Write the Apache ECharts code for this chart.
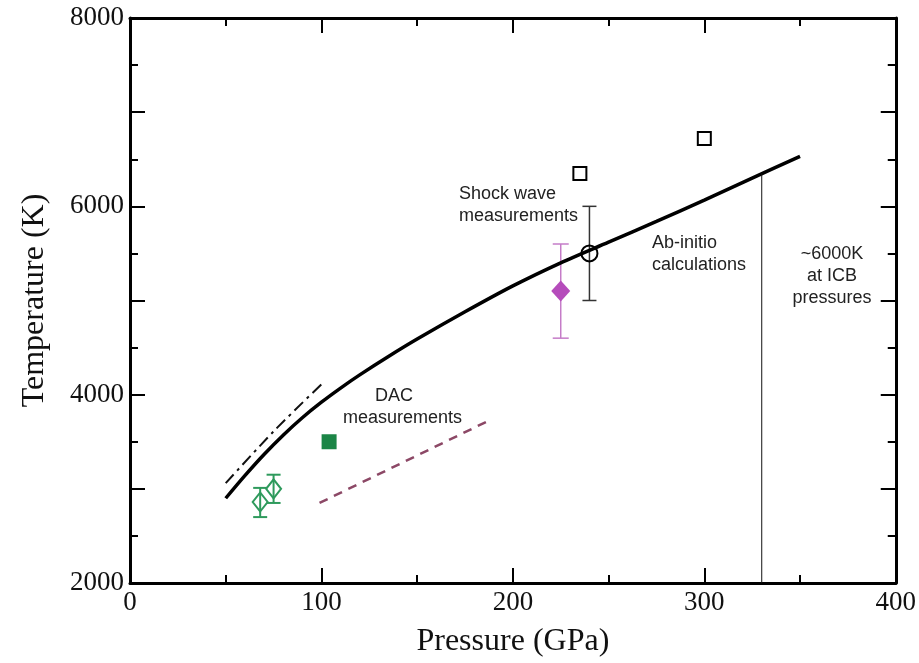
<!DOCTYPE html>
<html>
<head>
<meta charset="utf-8">
<script src="https://cdn.jsdelivr.net/npm/echarts@6/dist/echarts.min.js"></script>
<style>
  html, body { margin: 0; padding: 0; background: #fff; }
  #chart { width: 919px; height: 663px; }
</style>
</head>
<body>
<div id="chart"></div>
<script>
// Ab-initio melting curve
const curveP = [50, 60, 70, 80, 90, 100, 110, 120, 135, 150, 175, 200, 225, 250, 275, 300, 325, 350];
const curveT = [2900, 3140, 3365, 3570, 3755, 3920, 4070, 4210, 4405, 4590, 4880, 5155, 5400, 5620, 5840, 6065, 6300, 6530];

// dash-dot curve
const dashDotP = [50, 75, 100];
const dashDotT = [3060, 3610, 4110];

// DAC dashed line
const dacLineP = [99, 187];
const dacLineT = [2850, 3720];

// ICB pressure marker
const icbP = [330, 330];
const icbT = [2000, 6350];

// DAC points
const dacSquareP = [104];
const dacSquareT = [3500];
const dacDiamondP = [68, 75];
const dacDiamondT = [2860, 3000];
const dacDiamondLow = [2700, 2850];
const dacDiamondHigh = [3010, 3150];

// purple diamond
const purpleP = [225];
const purpleT = [5100];
const purpleLow = [4600];
const purpleHigh = [5600];

// shock wave points
const shockCircleP = [240];
const shockCircleT = [5500];
const shockCircleLow = [5000];
const shockCircleHigh = [6000];
const shockSquareP = [235, 300];
const shockSquareT = [6350, 6720];

const zip = (a, b) => a.map((v, i) => [v, b[i]]);
const zip3 = (a, b, c) => a.map((v, i) => [v, b[i], c[i]]);

const chart = echarts.init(document.getElementById('chart'));

function errorBar(color, width, cap) {
    return function (params, api) {
        const top = api.coord([api.value(0), api.value(2)]);
        const bot = api.coord([api.value(0), api.value(1)]);
        const style = { stroke: color, lineWidth: width };
        return {
            type: 'group',
            children: [
                { type: 'line', shape: { x1: top[0], y1: top[1], x2: bot[0], y2: bot[1] }, style },
                { type: 'line', shape: { x1: top[0] - cap, y1: top[1], x2: top[0] + cap, y2: top[1] }, style },
                { type: 'line', shape: { x1: bot[0] - cap, y1: bot[1], x2: bot[0] + cap, y2: bot[1] }, style }
            ]
        };
    };
}

const axisCommon = {
    type: 'value',
    axisLine: { show: true, onZero: false, lineStyle: { color: '#000', width: 3 } },
    axisTick: { show: true, inside: true, length: 15, lineStyle: { color: '#000', width: 2 } },
    minorTick: { show: true, splitNumber: 2, length: 8, lineStyle: { color: '#000', width: 2 } },
    splitLine: { show: false },
    minorSplitLine: { show: false }
};

const labelFont = { fontFamily: 'Liberation Serif', fontSize: 27, color: '#111' };
const nameFont = { fontFamily: 'Liberation Serif', fontSize: 32, color: '#111' };
const noteFont = { fontFamily: 'Liberation Sans', fontSize: 18, fill: '#222', lineHeight: 22, verticalAlign: 'top' };

const option = {
    backgroundColor: '#fff',
    animation: false,
    grid: { left: 130, right: 22, top: 18, bottom: 80, containLabel: false },
    xAxis: [
        Object.assign({}, axisCommon, {
            position: 'bottom', min: 0, max: 400, interval: 100,
            axisLabel: Object.assign({ margin: 6 }, labelFont),
            name: 'Pressure (GPa)', nameLocation: 'middle', nameGap: 43,
            nameTextStyle: nameFont
        }),
        Object.assign({}, axisCommon, {
            position: 'top', min: 0, max: 400, interval: 100,
            axisLabel: { show: false }
        })
    ],
    yAxis: [
        Object.assign({}, axisCommon, {
            position: 'left', min: 2000, max: 8000, interval: 1000,
            axisLabel: Object.assign({
                margin: 6,
                formatter: v => (v % 2000 === 0 ? String(v) : '')
            }, labelFont),
            name: 'Temperature (K)', nameLocation: 'middle', nameGap: 79,
            nameTextStyle: nameFont
        }),
        Object.assign({}, axisCommon, {
            position: 'right', min: 2000, max: 8000, interval: 1000,
            axisLabel: { show: false }
        })
    ],
    series: [
        {
            name: 'Ab-initio', type: 'line', data: zip(curveP, curveT),
            smooth: 0.3, symbol: 'none',
            lineStyle: { color: '#000', width: 3.5 }, z: 3
        },
        {
            name: 'dash-dot', type: 'line', data: zip(dashDotP, dashDotT),
            smooth: 0.3, symbol: 'none',
            lineStyle: { color: '#111', width: 2, type: [12, 5, 3, 5] }
        },
        {
            name: 'DAC line', type: 'line', data: zip(dacLineP, dacLineT),
            symbol: 'none',
            lineStyle: { color: '#8c4866', width: 2.5, type: [9, 7] }
        },
        {
            name: 'ICB', type: 'line', data: zip(icbP, icbT),
            symbol: 'none',
            lineStyle: { color: '#111', width: 1 }
        },
        {
            name: 'DAC square', type: 'scatter', data: zip(dacSquareP, dacSquareT),
            symbol: 'rect', symbolSize: 15,
            itemStyle: { color: '#1b8546', opacity: 1 }
        },
        {
            name: 'DAC err', type: 'custom', data: zip3(dacDiamondP, dacDiamondLow, dacDiamondHigh),
            renderItem: errorBar('#2e9a5c', 2, 7), z: 2
        },
        {
            name: 'DAC diamonds', type: 'scatter', data: zip(dacDiamondP, dacDiamondT),
            symbol: 'diamond', symbolSize: [15, 19],
            itemStyle: { color: 'rgba(255,255,255,0)', borderColor: '#2e9a5c', borderWidth: 2, opacity: 1 }, z: 3
        },
        {
            name: 'purple err', type: 'custom', data: zip3(purpleP, purpleLow, purpleHigh),
            renderItem: errorBar('#c57cc8', 1.5, 8), z: 2
        },
        {
            name: 'purple', type: 'scatter', data: zip(purpleP, purpleT),
            symbol: 'diamond', symbolSize: [19, 21],
            itemStyle: { color: '#b54cbb', opacity: 1 }, z: 3
        },
        {
            name: 'shock err', type: 'custom', data: zip3(shockCircleP, shockCircleLow, shockCircleHigh),
            renderItem: errorBar('#333', 1.5, 7), z: 2
        },
        {
            name: 'shock circle', type: 'scatter', data: zip(shockCircleP, shockCircleT),
            symbol: 'circle', symbolSize: 16,
            itemStyle: { color: 'rgba(255,255,255,0)', borderColor: '#000', borderWidth: 2, opacity: 1 }, z: 4
        },
        {
            name: 'shock squares', type: 'scatter', data: zip(shockSquareP, shockSquareT),
            symbol: 'rect', symbolSize: 13,
            itemStyle: { color: 'rgba(255,255,255,0)', borderColor: '#000', borderWidth: 2, opacity: 1 }
        }
    ],
    graphic: [
        { type: 'text', x: 459, y: 183, style: Object.assign({ text: 'Shock wave\nmeasurements' }, noteFont) },
        { type: 'text', x: 652, y: 232, style: Object.assign({ text: 'Ab-initio\ncalculations' }, noteFont) },
        { type: 'text', x: 832, y: 243, style: Object.assign({ text: '~6000K\nat ICB\npressures', align: 'center' }, noteFont) },
        { type: 'text', x: 375, y: 385, style: Object.assign({ text: 'DAC' }, noteFont) },
        { type: 'text', x: 343, y: 407, style: Object.assign({ text: 'measurements' }, noteFont) }
    ]
};

chart.setOption(option);

window.addEventListener('resize', () => chart.resize());
</script>
</body>
</html>
